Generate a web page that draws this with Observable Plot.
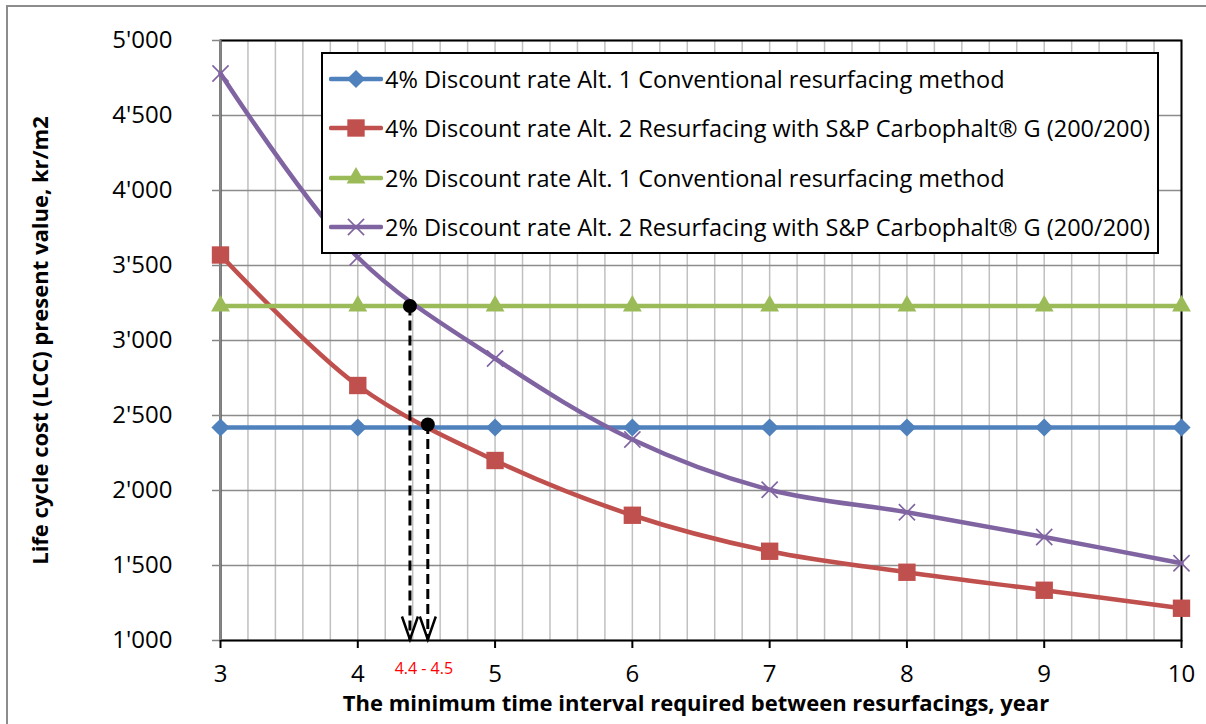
<!DOCTYPE html>
<html><head><meta charset="utf-8">
<script src="https://cdn.jsdelivr.net/npm/d3@7"></script>
<script src="https://cdn.jsdelivr.net/npm/@observablehq/plot@0.6"></script>
<style>
body{margin:0;background:#fff;}
#wrap{position:relative;width:1206px;height:724px;overflow:hidden;font-family:"Open Sans",sans-serif;}
#border{position:absolute;left:6px;top:5px;width:1300px;height:800px;border:2px solid #8c8c8c;box-sizing:border-box;}
#chart{position:absolute;left:0;top:0;}
#legend{position:absolute;left:321px;top:52px;width:838px;height:202px;border:2px solid #000;background:#fff;box-sizing:border-box;}
.row{height:49.5px;display:flex;align-items:center;white-space:nowrap;font-size:23.5px;color:#000;}
.row svg{margin-left:6px;margin-right:2px;flex:none;}
</style></head>
<body><div id="wrap"><div id="border"></div><div id="chart"></div><div id="legend"></div></div>
<script>
// ---- data ----
const years = [3, 4, 5, 6, 7, 8, 9, 10];
const seriesNames = [
  "4% Discount rate Alt. 1 Conventional resurfacing method",
  "4% Discount rate Alt. 2 Resurfacing with S&P Carbophalt® G (200/200)",
  "2% Discount rate Alt. 1 Conventional resurfacing method",
  "2% Discount rate Alt. 2 Resurfacing with S&P Carbophalt® G (200/200)"
];
const alt1Rate4 = [2420, 2420, 2420, 2420, 2420, 2420, 2420, 2420];
const alt2Rate4 = [3570, 2700, 2200, 1835, 1595, 1455, 1335, 1215];
const alt1Rate2 = [3230, 3230, 3230, 3230, 3230, 3230, 3230, 3230];
const alt2Rate2 = [4780, 3555, 2880, 2340, 2005, 1855, 1690, 1515];
const seriesValues = [alt1Rate4, alt2Rate4, alt1Rate2, alt2Rate2];
const seriesColors = ["#4F81BD", "#C0504D", "#9BBB59", "#8064A2"];
const seriesSymbols = ["diamond2", "square", "triangle", "times"];
const symbolR = [8.2, 9.8, 7, 7.4];
const crossingX = [4.38, 4.51];
const crossingY = [3230, 2440];
const crossingLabel = "4.4 - 4.5";
const xTicks = [3, 4, 5, 6, 7, 8, 9, 10];
const yTicks = [1000, 1500, 2000, 2500, 3000, 3500, 4000, 4500, 5000];
const xMinorTicks = d3.range(3, 10.001, 0.2).map(v => +v.toFixed(1));
const xTitle = "The minimum time interval required between resurfacings, year";
const yTitle = "Life cycle cost (LCC) present value, kr/m2";

// ---- build ----
const fmt = d3.formatLocale({decimal: ".", thousands: "'", grouping: [3], currency: ["", ""]}).format(",");
const crossings = crossingX.map((x, i) => ({x, y: crossingY[i]}));
const arrowHead = {
  draw(ctx) {
    ctx.moveTo(-8, -24); ctx.lineTo(0, -1); ctx.lineTo(8, -24);
  }
};
const yMin = yTicks[0];

const marks = [
  Plot.gridX(xMinorTicks, {stroke: "#c0c0c0", strokeOpacity: 1, strokeWidth: 1.5}),
  Plot.gridY(yTicks, {stroke: "#8c8c8c", strokeOpacity: 1, strokeWidth: 1.5}),
  Plot.frame({stroke: "#000", strokeWidth: 2}),
  Plot.ruleX([xTicks[0]], {stroke: "#868686", strokeWidth: 2}),
  Plot.axisY(yTicks, {tickSize: 8, tickPadding: 40, stroke: "#868686", strokeWidth: 1.5, tickFormat: fmt, fontSize: 24, label: null}),
  Plot.axisX(xTicks, {tickSize: 8, tickPadding: 16, stroke: "#000", strokeWidth: 2, tickFormat: d => String(d), fontSize: 24, label: null}),
];
seriesNames.forEach((name, i) => {
  const rows = years.map((x, j) => ({x, y: seriesValues[i][j]}));
  marks.push(Plot.line(rows, {x: "x", y: "y", stroke: seriesColors[i], strokeWidth: 4.5, curve: "catmull-rom"}));
  if (seriesSymbols[i] === "times")
    marks.push(Plot.dot(rows, {x: "x", y: "y", symbol: "times", r: symbolR[i], stroke: seriesColors[i], strokeWidth: 1.6, fill: "none"}));
  else
    marks.push(Plot.dot(rows, {x: "x", y: "y", symbol: seriesSymbols[i], r: symbolR[i], fill: seriesColors[i], stroke: "none"}));
});
marks.push(
  Plot.ruleX(crossings, {x: "x", y1: "y", y2: yMin, stroke: "#000", strokeWidth: 3, strokeDasharray: "10,5"}),
  Plot.dot(crossings, {x: "x", y: () => yMin, symbol: arrowHead, stroke: "#000", fill: "none", strokeWidth: 2.5}),
  Plot.dot(crossings, {x: "x", y: "y", r: 7, fill: "#000"}),
  Plot.text([crossingLabel], {x: d3.mean(crossingX), y: yMin, text: d => d, dx: 5, dy: 28, fill: "#ff0000", fontSize: 16}),
  Plot.text([yTitle], {frameAnchor: "left", dx: -180, rotate: -90, textAnchor: "middle", lineAnchor: "middle", text: d => d, fontSize: 22, fontWeight: "bold", fill: "#000"}),
  Plot.text([xTitle], {frameAnchor: "bottom", dx: -5, dy: 63, textAnchor: "middle", lineAnchor: "middle", text: d => d, fontSize: 22, fontWeight: "bold", fill: "#000"})
);

const chart = Plot.plot({
  width: 1206, height: 724,
  marginLeft: 220, marginRight: 25, marginTop: 40, marginBottom: 84,
  x: {domain: [xTicks[0], xTicks[xTicks.length - 1]]},
  y: {domain: [yTicks[0], yTicks[yTicks.length - 1]]},
  style: {fontFamily: "'Open Sans', sans-serif", fontSize: "20px", background: "transparent", color: "#000"},
  marks
});
document.getElementById("chart").appendChild(chart);

// ---- legend ----
const legend = document.getElementById("legend");
seriesNames.forEach((name, i) => {
  const row = document.createElement("div");
  row.className = "row";
  const svg = d3.create("svg").attr("width", 54).attr("height", 24);
  svg.append("line").attr("x1", 2).attr("x2", 52).attr("y1", 12).attr("y2", 12)
    .attr("stroke", seriesColors[i]).attr("stroke-width", 4.5).attr("stroke-linecap", "round");
  const symType = {diamond2: d3.symbolDiamond2, square: d3.symbolSquare, triangle: d3.symbolTriangle, times: d3.symbolTimes}[seriesSymbols[i]];
  const p = svg.append("path").attr("transform", "translate(27,12)")
    .attr("d", d3.symbol(symType, Math.PI * symbolR[i] * symbolR[i])());
  if (seriesSymbols[i] === "times") p.attr("fill", "none").attr("stroke", seriesColors[i]).attr("stroke-width", 1.6);
  else p.attr("fill", seriesColors[i]);
  row.appendChild(svg.node());
  const span = document.createElement("span");
  span.textContent = name;
  row.appendChild(span);
  legend.appendChild(row);
});
</script></body></html>
